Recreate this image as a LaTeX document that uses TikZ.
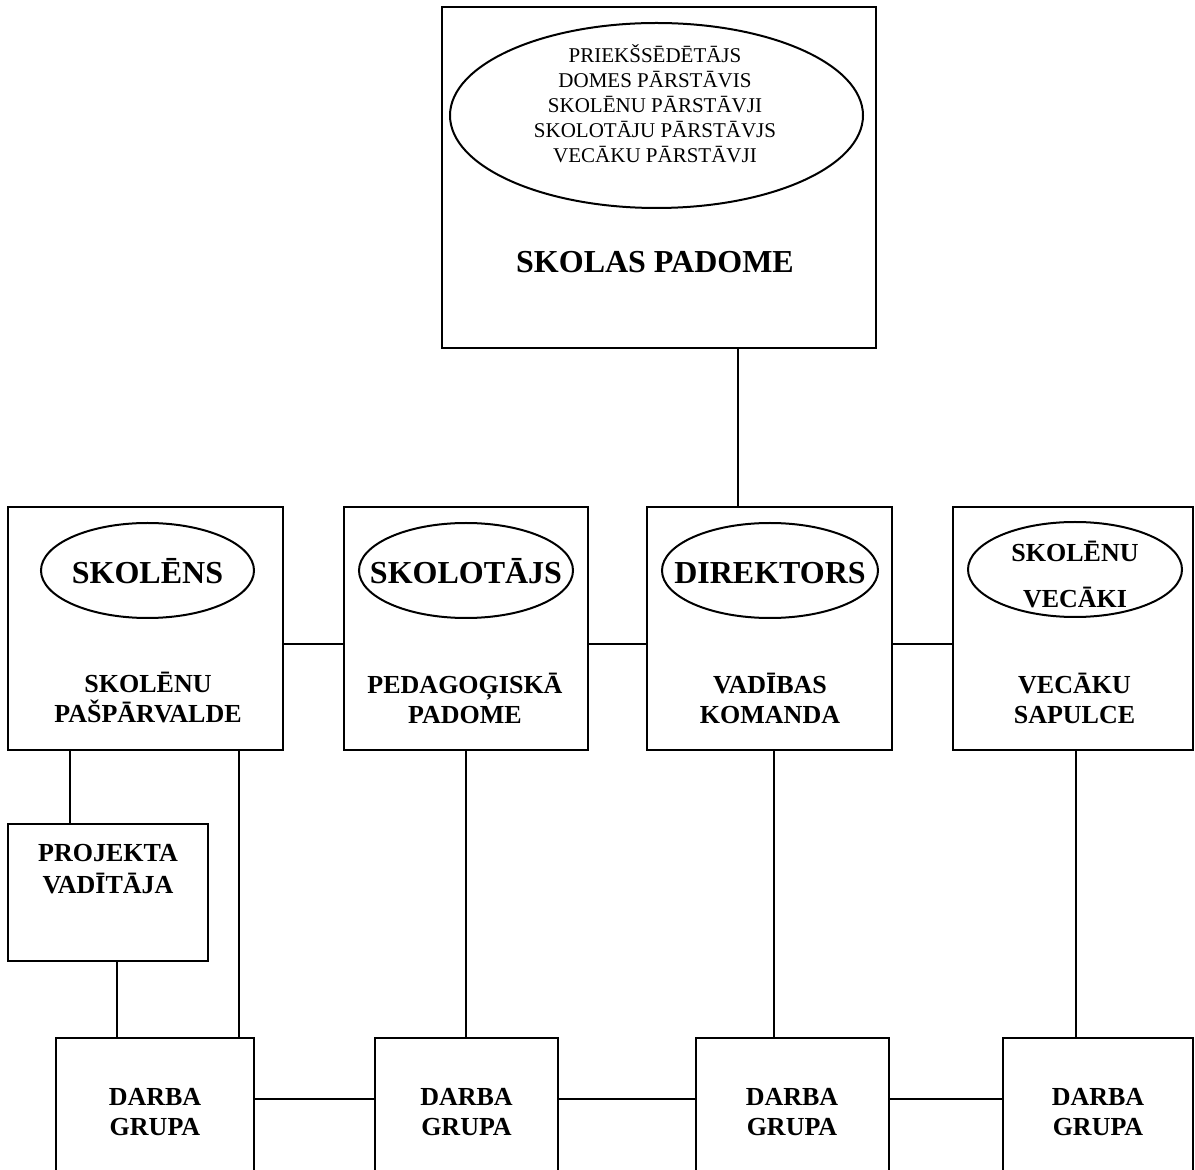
\documentclass[tikz,border=0pt]{standalone}
\usepackage{fontspec}
\setmainfont{Liberation Serif}
\usetikzlibrary{shapes.geometric,fit}

\begin{document}
\begin{tikzpicture}[
  x=0.5pt, y=-0.5pt,
  line width=1pt,
  box/.style={draw, inner sep=0pt},
  oval/.style={draw, ellipse, inner sep=0pt, minimum height=47.5pt},
  members/.style={font=\fontsize{10.5}{12.5}\selectfont, align=center},
  title/.style={font=\bfseries\fontsize{16}{19}\selectfont, align=center},
  head/.style={font=\bfseries\fontsize{13}{15}\selectfont, align=center}
]

\useasboundingbox (0,0) rectangle (1195,1170);

% school council
\node[box, fit={(442,7) (876,348)}] (padome) {};
\node[oval, minimum width=206.5pt, minimum height=92.5pt] (padomeoval) at (656.5,115.5) {};
\node[members] (members) at (655,104)
  {PRIEKŠSĒDĒTĀJS\\DOMES PĀRSTĀVIS\\SKOLĒNU PĀRSTĀVJI\\SKOLOTĀJU PĀRSTĀVJS\\VECĀKU PĀRSTĀVJI};
\node[title] (padomename) at (655,262) {SKOLAS PADOME};

% middle row
\node[box, fit={(8,507) (283,750)}] (skolens) {};
\node[oval, minimum width=106.5pt] (skolensoval) at (147.5,570.5) {};
\node[title, anchor=base] (skolensname) at (147.5,584) {SKOLĒNS};
\node[head] (skolenslabel) at (148,698) {SKOLĒNU\\PAŠPĀRVALDE};

\node[box, fit={(344,507) (588,750)}] (skolotajs) {};
\node[oval, minimum width=107pt] (skolotajsoval) at (466,570.5) {};
\node[title, anchor=base] (skolotajsname) at (466,584) {SKOLOTĀJS};
\node[head] (skolotajslabel) at (465,698) {PEDAGOĢISKĀ\\PADOME};

\node[box, fit={(647,507) (892,750)}] (direktors) {};
\node[oval, minimum width=108pt] (direktorsoval) at (770,570.5) {};
\node[title, anchor=base] (direktorsname) at (770,584) {DIREKTORS};
\node[head] (direktorslabel) at (770,698) {VADĪBAS\\KOMANDA};

\node[box, fit={(953,507) (1193,750)}] (vecaki) {};
\node[oval, minimum width=107pt] (vecakioval) at (1075,569.5) {};
\node[head] (vecakiname) at (1075,575) {SKOLĒNU\\[8pt]VECĀKI};
\node[head] (vecakilabel) at (1074.5,698) {VECĀKU\\SAPULCE};

% project leader
\node[box, fit={(8,824) (208,961)}] (projekta) {};
\node[head, font=\bfseries\fontsize{13}{16}\selectfont] (projektalabel) at (108,869) {PROJEKTA\\VADĪTĀJA};

% work groups
\node[box, fit={(56,1038) (254,1200)}] (darba1) {};
\node[head] (darba1label) at (155,1112) {DARBA\\GRUPA};
\node[box, fit={(375,1038) (558,1200)}] (darba2) {};
\node[head] (darba2label) at (466.5,1112) {DARBA\\GRUPA};
\node[box, fit={(696,1038) (889,1200)}] (darba3) {};
\node[head] (darba3label) at (792,1112) {DARBA\\GRUPA};
\node[box, fit={(1003,1038) (1193,1200)}] (darba4) {};
\node[head] (darba4label) at (1098,1112) {DARBA\\GRUPA};

% links
\draw (padome.south -| 738,0) -- (direktors.north -| 738,0);

\draw (skolens.east |- 0,644) -- (skolotajs.west |- 0,644);
\draw (skolotajs.east |- 0,644) -- (direktors.west |- 0,644);
\draw (direktors.east |- 0,644) -- (vecaki.west |- 0,644);

\draw (skolens.south -| 70,0) -- (projekta.north -| 70,0);
\draw (projekta.south -| 117,0) -- (darba1.north -| 117,0);
\draw (skolens.south -| 239,0) -- (darba1.north -| 239,0);
\draw (skolotajs.south -| 466,0) -- (darba2.north -| 466,0);
\draw (direktors.south -| 774,0) -- (darba3.north -| 774,0);
\draw (vecaki.south -| 1076,0) -- (darba4.north -| 1076,0);

\draw (darba1.east |- 0,1099) -- (darba2.west |- 0,1099);
\draw (darba2.east |- 0,1099) -- (darba3.west |- 0,1099);
\draw (darba3.east |- 0,1099) -- (darba4.west |- 0,1099);

\end{tikzpicture}
\end{document}
